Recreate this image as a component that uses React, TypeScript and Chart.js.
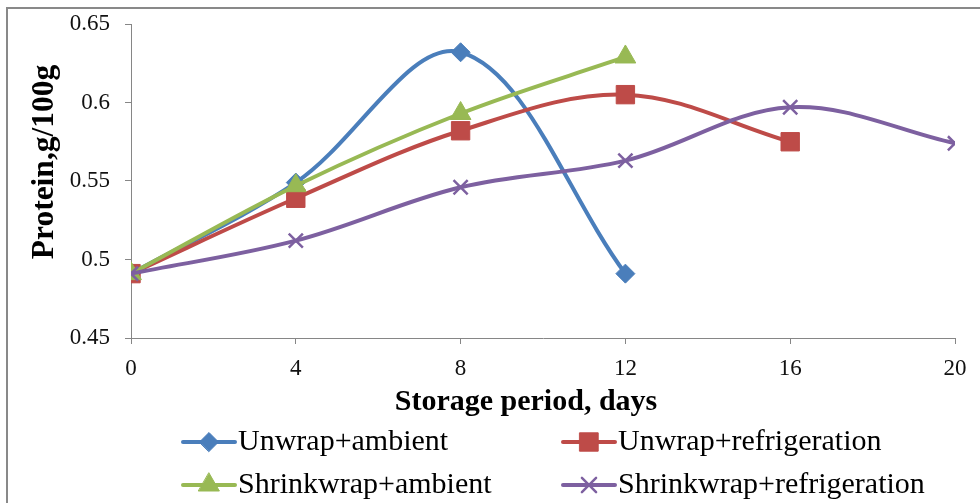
import React, { useEffect, useRef } from 'react';
import { Chart, registerables } from 'chart.js';
import { drawPoint } from 'chart.js/helpers';

Chart.register(...registerables);

const days = [0, 4, 8, 12, 16, 20];
const seriesNames = ['Unwrap+ambient', 'Unwrap+refrigeration', 'Shrinkwrap+ambient', 'Shrinkwrap+refrigeration'];
const unwrapAmbient = [0.491, 0.549, 0.632, 0.491];
const unwrapRefrigeration = [0.491, 0.539, 0.582, 0.605, 0.575];
const shrinkwrapAmbient = [0.491, 0.547, 0.593, 0.629];
const shrinkwrapRefrigeration = [0.491, 0.512, 0.546, 0.563, 0.597, 0.574];
const xTicks = [0, 4, 8, 12, 16, 20];
const yTicks = [0.45, 0.5, 0.55, 0.6, 0.65];
const xTitle = 'Storage period, days';
const yTitle = 'Protein,g/100g';

const colors = ['#4A7EBB', '#BE4B48', '#98B954', '#7D60A0'];
const pointStyles = ['rectRot', 'rect', 'triangle', 'crossRot'];
const pointRadii = [9.5, 13, 12, 10];
const pointBorders = [1, 1, 1, 2.5];
const FONT = '"Liberation Serif", "Times New Roman", serif';
const AXIS_COLOR = '#868686';

const toPoints = (vals: number[]) => vals.map((v, i) => ({ x: days[i], y: v }));

const overlayPlugin = {
  id: 'overlay',
  afterDraw(chart: any) {
    const ctx = chart.ctx as CanvasRenderingContext2D;
    ctx.save();
    ctx.fillStyle = '#000';
    ctx.textAlign = 'center';
    ctx.textBaseline = 'middle';
    ctx.font = `bold 30px ${FONT}`;
    ctx.fillText(xTitle, 526, 402);
    ctx.save();
    ctx.translate(45, 162);
    ctx.rotate(-Math.PI / 2);
    ctx.font = `bold 31.5px ${FONT}`;
    ctx.fillText(yTitle, 0, 0);
    ctx.restore();

    // legend
    const colX = [183, 563];
    const rowY = [442, 485];
    chart.data.datasets.forEach((ds: any, i: number) => {
      const x0 = colX[i % 2];
      const y = rowY[Math.floor(i / 2)];
      ctx.strokeStyle = colors[i];
      ctx.lineWidth = 4;
      ctx.lineCap = 'round';
      ctx.beginPath();
      ctx.moveTo(x0, y);
      ctx.lineTo(x0 + 52, y);
      ctx.stroke();
      ctx.fillStyle = colors[i];
      ctx.strokeStyle = colors[i];
      ctx.lineWidth = pointBorders[i];
      drawPoint(ctx, { pointStyle: pointStyles[i], radius: pointRadii[i], rotation: 0, borderWidth: pointBorders[i] } as any, x0 + 26, y);
      ctx.fillStyle = '#000';
      ctx.textAlign = 'left';
      ctx.textBaseline = 'middle';
      ctx.font = `30px ${FONT}`;
      ctx.fillText(ds.label, x0 + 55, y);
    });
    ctx.restore();
  },
};

export default function App() {
  const ref = useRef<HTMLCanvasElement | null>(null);
  useEffect(() => {
    if (!ref.current) return;
    const seriesData = [unwrapAmbient, unwrapRefrigeration, shrinkwrapAmbient, shrinkwrapRefrigeration];
    const chart = new Chart(ref.current, {
      type: 'line',
      data: {
        datasets: seriesData.map((vals, i) => ({
          label: seriesNames[i],
          data: toPoints(vals),
          borderColor: colors[i],
          backgroundColor: colors[i],
          borderWidth: 4,
          tension: 0.35,
          pointStyle: pointStyles[i] as any,
          pointRadius: pointRadii[i],
          pointBorderWidth: pointBorders[i],
          pointBackgroundColor: colors[i],
          pointBorderColor: colors[i],
          order: 3 - i,
          fill: false,
        })),
      },
      options: {
        animation: false,
        responsive: false,
        events: [],
        layout: { padding: { left: 0, right: 25, top: 24, bottom: 83 } },
        plugins: { legend: { display: false }, tooltip: { enabled: false } },
        scales: {
          x: {
            type: 'linear',
            min: 0,
            max: 20,
            afterBuildTicks: (scale: any) => {
              scale.ticks = xTicks.map((v) => ({ value: v }));
            },
            afterFit: (scale: any) => {
              scale.height = 82;
              scale.paddingLeft = 0;
              scale.paddingRight = 0;
            },
            grid: { drawOnChartArea: false, drawTicks: true, tickLength: 6, color: AXIS_COLOR },
            border: { color: AXIS_COLOR, width: 1 },
            ticks: {
              padding: 11,
              color: '#111',
              font: { family: FONT, size: 23 },
              maxRotation: 0,
              callback: (v: any) => String(v),
            },
          },
          y: {
            type: 'linear',
            min: 0.45,
            max: 0.65,
            afterBuildTicks: (scale: any) => {
              scale.ticks = yTicks.map((v) => ({ value: v }));
            },
            afterFit: (scale: any) => {
              scale.width = 131;
              scale.paddingTop = 0;
              scale.paddingBottom = 0;
            },
            grid: { drawOnChartArea: false, drawTicks: true, tickLength: 6, color: AXIS_COLOR },
            border: { color: AXIS_COLOR, width: 1 },
            ticks: {
              padding: 15,
              color: '#111',
              font: { family: FONT, size: 23 },
              callback: (v: any) => String(Number(Number(v).toFixed(2))),
            },
          },
        },
      },
      plugins: [overlayPlugin],
    });
    return () => chart.destroy();
  }, []);

  return (
    <div style={{ position: 'absolute', left: 0, top: 0, width: 980, height: 503, overflow: 'hidden', background: '#fff' }}>
      <div
        style={{
          position: 'absolute',
          left: 6,
          top: 7,
          right: 0,
          bottom: 0,
          borderTop: '2px solid #898989',
          borderLeft: '2px solid #898989',
        }}
      />
      <canvas ref={ref} width={980} height={503} style={{ position: 'absolute', left: 0, top: 0, width: 980, height: 503 }} />
    </div>
  );
}
